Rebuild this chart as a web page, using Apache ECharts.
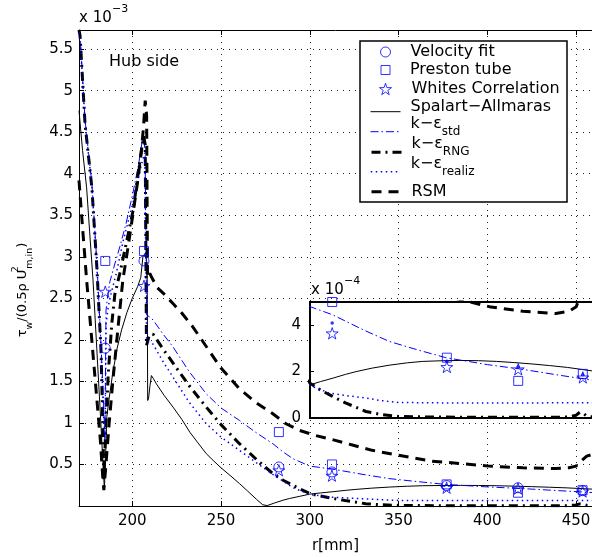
<!DOCTYPE html>
<html><head><meta charset="utf-8">
<script src="https://cdn.jsdelivr.net/npm/echarts@6/dist/echarts.min.js"></script>
<style>html,body{margin:0;padding:0;background:#fff}#c{width:592px;height:557px}</style>
</head><body><div id="c"></div>
<script>
// ---------- data (tau_w / (0.5 rho U^2) in units of 1e-3, r in mm) ----------
const rExp        = [184.8, 206.6, 282.6, 312.5, 377.1, 417.3, 453.7];
const tauVelocity = [1.90, 2.95, 0.47, 0.41, 0.245, 0.22, 0.185];
const tauPreston  = [2.95, 3.07, 0.89, 0.50, 0.26, 0.16, 0.19];
const tauWhites   = [2.58, 2.65, 0.43, 0.365, 0.22, 0.21, 0.175];

const rSA   = [170,172,174.3,176,177.9,180,182,184.3,185.2,185.7,187,189,191.5,194,197,200,203,204.8,206,207.5,208.4,208.7,209.2,210,210.8,212,213.6,218,223,228,232.4,237,241.7,246,250,255,260.4,265,270,273.5,276,280,285,288.5,294,300,306,313,320,326,335,345,355,363.5,375,385,395,405,415,425,435,445,459];
const tauSA = [4.76,4.28,3.83,3.3,2.72,1.9,1.12,0.2,0.75,1.08,1.3,1.6,1.9,2.12,2.33,2.5,2.64,2.75,3.0,3.05,2.9,1.27,1.3,1.45,1.57,1.53,1.47,1.33,1.19,1.04,0.89,0.76,0.63,0.54,0.46,0.37,0.27,0.18,0.08,0.015,0.005,0.035,0.07,0.09,0.115,0.143,0.157,0.172,0.188,0.2,0.215,0.228,0.238,0.244,0.247,0.248,0.247,0.244,0.239,0.233,0.226,0.218,0.203];

const rStd   = [170,170.6,173.4,177.3,180.1,182.4,184,184.6,185.2,186,187.4,190,193,196.5,200.3,203.5,206,207.2,208.1,209.5,211.7,217,222.8,232,241.7,250,260.4,270,279.2,285,290.5,300,312.7,330,344.7,360,376.5,400,419.5,440,459];
const tauStd = [5.73,5.66,4.65,3.87,2.92,1.95,1.15,0.76,2.35,2.5,2.7,2.9,3.12,3.4,3.76,4.1,4.45,4.3,2.3,2.28,2.24,2.08,1.92,1.62,1.35,1.18,1.03,0.88,0.75,0.65,0.57,0.48,0.445,0.38,0.33,0.295,0.26,0.23,0.21,0.185,0.163];

const rRNG   = [170,170.6,173.4,177.3,180.1,182.4,183.5,184,185,186.5,188.5,190.2,193,196,200.5,204.3,206.5,207.3,208.0,209.5,211.7,217,223,232,241.7,250,260.4,270,279.2,285,290.4,295,300,306,312.7,320,331.5,340,350,370,400,430,445,450,452,454,456,459];
const tauRNG = [5.73,5.66,4.6,3.82,2.86,1.875,0.9,0.31,0.9,1.6,2.2,2.55,2.8,3.1,3.56,4.16,4.45,4.35,1.93,2.05,2.07,1.9,1.72,1.45,1.19,0.98,0.75,0.56,0.39,0.31,0.25,0.2,0.15,0.12,0.093,0.065,0.028,0.015,0.007,0.004,0.003,0.003,0.004,0.012,0.025,0.02,0.008,0.005];

const rRealiz   = [170,170.6,173.4,177.3,180.1,182.4,184,184.7,185.3,186.5,188,191,195,198,201,205,207,208.1,209.5,211.7,217,223,232,241.7,250,260.4,270,279.2,285,290.5,300,311,320,331.5,340,350,375,400,425,459];
const tauRealiz = [5.7,5.63,4.62,3.84,2.88,1.9,1.0,0.85,2.2,2.4,2.55,2.8,3.2,3.45,3.7,4.1,4.25,1.99,1.97,1.95,1.75,1.55,1.25,0.99,0.83,0.67,0.52,0.38,0.30,0.22,0.14,0.107,0.097,0.086,0.075,0.067,0.065,0.065,0.065,0.066];

const rRSM   = [170,172,174.3,177,180,182,183.5,184,185,187,189.1,192,194.7,197.5,200.3,203,205,206.3,207.3,208.1,208.6,209.9,211,214,218,222.8,228,234,241.7,250,260.4,270,279.2,286.6,294.2,303,312.7,323,335.2,350,369,385,401,420,438.4,446,450,453.3,456,459];
const tauRSM = [3.92,3.35,2.72,2.05,1.3,0.8,0.31,0.19,0.45,1.0,1.51,2.15,2.72,3.1,3.5,3.9,4.25,4.55,4.88,4.7,2.75,2.8,2.75,2.63,2.55,2.44,2.32,2.16,1.92,1.66,1.41,1.24,1.11,0.99,0.91,0.85,0.80,0.74,0.67,0.61,0.54,0.51,0.48,0.46,0.45,0.46,0.48,0.55,0.6,0.62];

// ---------- styling ----------
const FONT = 'DejaVu Sans';
const BLUE = '#0000ff';
const HOLLOW = 'rgba(0,0,0,0)';
const STAR = 'path://M50,2 L61.2,36.2 L97.6,36.5 L68.3,58 L79.4,92.5 L50,71.5 L20.6,92.5 L31.7,58 L2.4,36.5 L38.8,36.2 Z';
const SQUARE = 'path://M0,0 L10,0 L10,10 L0,10 Z';

function pairs(rs, ts) { return rs.map((r, i) => [r, ts[i]]); }
function insetPairs(rs, ts) { return rs.map((r, i) => [r, ts[i] * 10]).filter(p => p[0] >= 285); }

const lineDefs = [
  { name: 'Spalart−Allmaras', r: rSA, t: tauSA, color: '#000', width: 1, type: 'solid' },
  { name: 'k−ε std', r: rStd, t: tauStd, color: BLUE, width: 1, type: [8, 3, 1.5, 3] },
  { name: 'k−ε RNG', r: rRNG, t: tauRNG, color: '#000', width: 3, type: [9, 5, 2, 5] },
  { name: 'k−ε realiz', r: rRealiz, t: tauRealiz, color: BLUE, width: 1.5, type: [1.5, 3.5] },
  { name: 'RSM', r: rRSM, t: tauRSM, color: '#000', width: 3, type: [10, 7] }
];
const markDefs = [
  { name: 'Velocity fit', t: tauVelocity, symbol: 'circle', size: 10, insetDot: true },
  { name: 'Preston tube', t: tauPreston, symbol: SQUARE, size: 9 },
  { name: 'Whites Correlation', t: tauWhites, symbol: STAR, size: 12 }
];

const series = [];
lineDefs.forEach(d => {
  series.push({
    name: d.name, type: 'line', xAxisIndex: 0, yAxisIndex: 0, z: 2,
    data: pairs(d.r, d.t), symbol: 'none', smooth: false, silent: true,
    lineStyle: { color: d.color, width: d.width, type: d.type },
    itemStyle: { color: d.color }
  });
  series.push({
    name: 'inset ' + d.name, type: 'line', xAxisIndex: 2, yAxisIndex: 1, z: 12,
    data: insetPairs(d.r, d.t), symbol: 'none', smooth: false, silent: true, clip: true,
    lineStyle: { color: d.color, width: d.width, type: d.type },
    itemStyle: { color: d.color }
  });
});
markDefs.forEach(d => {
  series.push({
    name: d.name, type: 'scatter', xAxisIndex: 0, yAxisIndex: 0, z: 3,
    data: pairs(rExp, d.t), symbol: d.symbol, symbolSize: d.size, symbolKeepAspect: true, silent: true,
    itemStyle: { color: HOLLOW, borderColor: BLUE, borderWidth: 1 }
  });
  series.push({
    name: 'inset ' + d.name, type: 'scatter', xAxisIndex: 2, yAxisIndex: 1, z: 13,
    data: insetPairs(rExp, d.t), symbolKeepAspect: true, silent: true, clip: false,
    symbol: d.insetDot ? 'circle' : d.symbol, symbolSize: d.insetDot ? 3.5 : d.size,
    itemStyle: d.insetDot ? { color: BLUE } : { color: HOLLOW, borderColor: BLUE, borderWidth: 1 }
  });
});

// ---------- legend (one row per component for exact placement) ----------
const legRich = {
  m: { fontFamily: FONT, fontSize: 16, lineHeight: 16, verticalAlign: 'top', color: '#000', padding: [0, 0, 0, 5] },
  mk: { fontFamily: FONT, fontSize: 16, lineHeight: 16, verticalAlign: 'top', color: '#000', padding: [0, 0, 0, 15] },
  s: { fontFamily: FONT, fontSize: 12, lineHeight: 12, verticalAlign: 'top', color: '#000', padding: [10, 0, 0, 0] },
  p26: { fontSize: 2, lineHeight: 26, verticalAlign: 'top' },
  p32: { fontSize: 2, lineHeight: 32, verticalAlign: 'top' }
};
const legendRows = [
  { name: 'Velocity fit', text: '{mk|Velocity fit}', ih: 10, iw: 10, H: 16, yc: 52, x: 380, mark: true },
  { name: 'Preston tube', text: '{mk|Preston tube}', ih: 9, iw: 9, H: 16, yc: 70, x: 380.5, mark: true },
  { name: 'Whites Correlation', text: '{mk|Whites Correlation}', ih: 12, iw: 12, H: 16, yc: 89, x: 379, mark: true },
  { name: 'Spalart−Allmaras', text: '{m|Spalart−Allmaras}{p26| }', ih: 14, iw: 30, H: 26, yc: 111.7, x: 370, lw: 1 },
  { name: 'k−ε std', text: '{m|k−ε}{s|std}{p32| }', ih: 14, iw: 30, H: 32, yc: 131.7, x: 370, lw: 1 },
  { name: 'k−ε RNG', text: '{m|k−ε}{s|RNG}{p32| }', ih: 14, iw: 30, H: 32, yc: 152.3, x: 370, lw: 3 },
  { name: 'k−ε realiz', text: '{m|k−ε}{s|realiz}{p32| }', ih: 14, iw: 30, H: 32, yc: 171.7, x: 370, lw: 1.5 },
  { name: 'RSM', text: '{m|RSM}', ih: 14, iw: 30, H: 16, yc: 191.7, x: 370, lw: 3 }
];
const legends = legendRows.map(row => ({
  data: [row.name], orient: 'horizontal', left: row.x, top: row.yc - Math.max(row.ih, row.H) / 2,
  itemWidth: row.iw, itemHeight: row.ih, padding: 0, selectedMode: false, z: 6,
  itemStyle: row.mark ? { borderWidth: 1 } : { opacity: 0, borderWidth: 0 },
  lineStyle: { width: row.lw || 1 },
  formatter: () => row.text,
  textStyle: { rich: legRich }
}));

const axisFont = { color: '#000', fontFamily: FONT, fontSize: 15 };
const dotted = { show: true, lineStyle: { color: '#222', width: 1, type: [1, 5] } };

const option = {
  animation: false,
  backgroundColor: '#fff',
  grid: [
    { left: 79, right: 0, top: 30, bottom: 51, outerBoundsMode: 'none', containLabel: false, show: false },
    { left: 310, right: -2, top: 302, height: 116, outerBoundsMode: 'none', containLabel: false, show: true,
      backgroundColor: '#fff', borderColor: '#000', borderWidth: 2, z: 10 }
  ],
  xAxis: [
    { type: 'value', gridIndex: 0, min: 170, max: 459, splitNumber: 6, position: 'bottom', z: 1,
      axisLine: { show: true, onZero: false, lineStyle: { color: '#000', width: 1 } },
      axisTick: { show: true, inside: true, length: 5, lineStyle: { color: '#000' } },
      axisLabel: Object.assign({ show: true, margin: 8, showMinLabel: false, showMaxLabel: false }, axisFont),
      splitLine: dotted,
      name: 'r[mm]', nameLocation: 'middle', nameGap: 33, nameTextStyle: axisFont },
    { type: 'value', gridIndex: 0, min: 170, max: 459, splitNumber: 6, position: 'top', z: 1,
      axisLine: { show: true, onZero: false, lineStyle: { color: '#000', width: 1 } },
      axisTick: { show: true, inside: true, length: 5, lineStyle: { color: '#000' } },
      axisLabel: { show: false }, splitLine: { show: false } },
    { type: 'value', gridIndex: 1, min: 300, max: 460, z: 11,
      axisLine: { show: false }, axisTick: { show: false }, axisLabel: { show: false }, splitLine: { show: false } }
  ],
  yAxis: [
    { type: 'value', gridIndex: 0, min: 0, max: 5.73, interval: 0.5, z: 1,
      axisLine: { show: true, onZero: false, lineStyle: { color: '#000', width: 1 } },
      axisTick: { show: true, inside: true, length: 5, lineStyle: { color: '#000' } },
      axisLabel: Object.assign({ show: true, margin: 6, showMinLabel: false, showMaxLabel: false }, axisFont),
      splitLine: dotted },
    { type: 'value', gridIndex: 1, min: 0, max: 5, interval: 2, z: 11,
      axisLine: { show: false },
      axisTick: { show: true, inside: true, length: 4, lineStyle: { color: '#000' } },
      axisLabel: Object.assign({ show: true, margin: 9, showMaxLabel: false }, axisFont),
      splitLine: { show: false } }
  ],
  legend: legends,
  graphic: [
    { type: 'rect', z: 5, shape: { x: 360, y: 41, width: 207, height: 161 },
      style: { fill: '#fff', stroke: '#000', lineWidth: 1.5 } },
    { type: 'text', z: 20, x: 109, y: 62, style: { text: 'Hub side', fontFamily: FONT, fontSize: 16, fill: '#000', verticalAlign: 'middle' } },
    { type: 'text', z: 20, x: 79, y: 18, style: { text: 'x 10', fontFamily: FONT, fontSize: 15, fill: '#000', verticalAlign: 'middle' } },
    { type: 'text', z: 20, x: 112, y: 9, style: { text: '−3', fontFamily: FONT, fontSize: 11, fill: '#000', verticalAlign: 'middle' } },
    { type: 'text', z: 20, x: 311, y: 290, style: { text: 'x 10', fontFamily: FONT, fontSize: 15, fill: '#000', verticalAlign: 'middle' } },
    { type: 'text', z: 20, x: 344, y: 281, style: { text: '−4', fontFamily: FONT, fontSize: 11, fill: '#000', verticalAlign: 'middle' } },
    { type: 'text', z: 20, x: 23, y: 290, rotation: Math.PI / 2,
      style: {
        text: '{m|τ}{s|w}{m|/(0.5ρ U}{p|2}{s|m,in}{m|)}',
        align: 'center', verticalAlign: 'middle', fill: '#000',
        rich: {
          m: { fontFamily: FONT, fontSize: 13, lineHeight: 24, verticalAlign: 'middle', color: '#000' },
          s: { fontFamily: FONT, fontSize: 9.5, lineHeight: 10, verticalAlign: 'bottom', color: '#000' },
          p: { fontFamily: FONT, fontSize: 9.5, lineHeight: 10, verticalAlign: 'top', color: '#000', width: 1 }
        }
      } }
  ],
  series: series
};

const chart = echarts.init(document.getElementById('c'), null, { renderer: 'canvas' });
chart.setOption(option);
</script></body></html>
